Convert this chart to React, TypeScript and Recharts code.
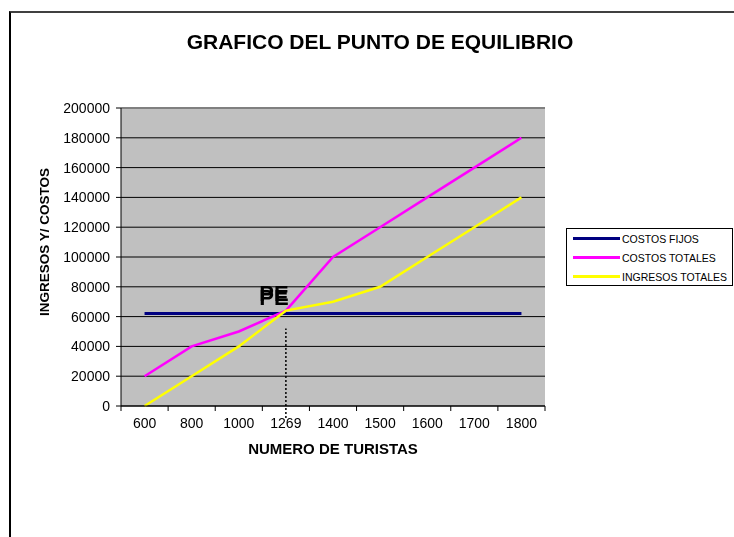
import React from 'react'
import { LineChart, Line, XAxis, YAxis, CartesianGrid, Legend, ReferenceLine, ReferenceDot } from 'recharts'

const turistas = ['600', '800', '1000', '1269', '1400', '1500', '1600', '1700', '1800']
const costosFijos = [62000, 62000, 62000, 62000, 62000, 62000, 62000, 62000, 62000]
const costosTotales = [20000, 40000, 50000, 64000, 100000, 120000, 140000, 160000, 180000]
const ingresosTotales = [0, 20000, 40000, 64000, 70000, 80000, 100000, 120000, 140000]
const yTicks = [0, 20000, 40000, 60000, 80000, 100000, 120000, 140000, 160000, 180000, 200000]

// punto de equilibrio y linea punteada hacia el eje
const peTuristas = '1269'
const peValor = 64000
const peLinea = [-8000, 52000]

const data = turistas.map((t, i) => ({
  turistas: t,
  fijos: costosFijos[i],
  totales: costosTotales[i],
  ingresos: ingresosTotales[i],
}))

const W = 726
const H = 529
const MARGIN = { top: 100, right: 189, bottom: 101, left: 0 }
const Y_AXIS_W = 113
const X_AXIS_H = 30
const PLOT_W = W - MARGIN.left - Y_AXIS_W - MARGIN.right
const HALF = PLOT_W / turistas.length / 2
const FONT = '"Liberation Sans", Arial, sans-serif'

function XTick(props: any) {
  const { x, y, payload, index } = props
  const last = index === turistas.length - 1
  return (
    <g>
      <line x1={x - HALF} x2={x - HALF} y1={y} y2={y + 5} stroke="#000" />
      {last && <line x1={x + HALF} x2={x + HALF} y1={y} y2={y + 5} stroke="#000" />}
      <text x={x} y={y + 22} textAnchor="middle" fontSize={14} fill="#000" fontFamily={FONT}>
        {payload.value}
      </text>
    </g>
  )
}

function LegendBox(props: any) {
  const items = props.payload || []
  return (
    <div style={{ border: '1px solid #000', background: '#fff', height: 56, fontFamily: FONT, fontSize: 10.5 }}>
      {items.map((it: any) => (
        <div key={it.value} style={{ height: 19, display: 'flex', alignItems: 'center', whiteSpace: 'nowrap' }}>
          <div style={{ width: 47, height: 2.5, background: it.color, marginLeft: 6, marginRight: 2 }} />
          <span style={{ color: '#000' }}>{it.value}</span>
        </div>
      ))}
    </div>
  )
}

function PeLabel(props: any) {
  const vb = props.viewBox || {}
  const x = (vb.x || 0) - 12
  const y = vb.y || 0
  return (
    <g fontFamily={FONT} fontWeight="bold" fontSize={22} textAnchor="middle" fill="#000">
      <text x={x} y={y - 10}>PE</text>
      <text x={x} y={y - 6}>PE</text>
    </g>
  )
}

export default function App() {
  return (
    <div style={{ position: 'fixed', left: 8, top: 8, width: W, height: H, overflow: 'hidden' }}>
      <div
        style={{
          position: 'absolute',
          left: 1,
          top: 3,
          width: W + 20,
          height: H + 20,
          borderLeft: '2px solid #000',
          borderTop: '2px solid #404040',
        }}
      />
      <div
        style={{
          position: 'absolute',
          left: 0,
          top: 22,
          width: 744,
          textAlign: 'center',
          fontFamily: FONT,
          fontWeight: 'bold',
          fontSize: 21,
          lineHeight: '24px',
        }}
      >
        GRAFICO DEL PUNTO DE EQUILIBRIO
      </div>
      <div style={{ position: 'absolute', left: 0, top: 0 }}>
        <LineChart width={W} height={H} data={data} margin={MARGIN}>
          <CartesianGrid vertical={false} fill="#C0C0C0" fillOpacity={1} stroke="#000" strokeOpacity={1} />
          <XAxis
            dataKey="turistas"
            height={X_AXIS_H}
            padding={{ left: HALF, right: HALF }}
            interval={0}
            tickSize={0}
            tickMargin={0}
            tickLine={false}
            axisLine={{ stroke: '#000' }}
            tick={<XTick />}
            label={(p: any) => {
              const vb = p.viewBox || { x: 113, y: 398, width: PLOT_W }
              return (
                <text
                  x={vb.x + vb.width / 2}
                  y={vb.y + 48}
                  textAnchor="middle"
                  fontFamily={FONT}
                  fontWeight="bold"
                  fontSize={15}
                  fill="#000"
                >
                  NUMERO DE TURISTAS
                </text>
              )
            }}
          />
          <YAxis
            width={Y_AXIS_W}
            domain={[0, 200000]}
            ticks={yTicks}
            interval={0}
            tickSize={5}
            tickMargin={6}
            axisLine={{ stroke: '#000' }}
            tickLine={{ stroke: '#000' }}
            tick={{ fontSize: 14, fill: '#000', fontFamily: FONT }}
            label={(p: any) => {
              const vb = p.viewBox || { x: 0, y: 100, height: 298 }
              const cx = vb.x + 36
              const cy = vb.y + vb.height / 2 - 15
              return (
                <text
                  x={cx}
                  y={cy}
                  transform={`rotate(-90 ${cx} ${cy})`}
                  textAnchor="middle"
                  dominantBaseline="central"
                  fontFamily={FONT}
                  fontWeight="bold"
                  fontSize={13.5}
                  fill="#000"
                >
                  INGRESOS Y/ COSTOS
                </text>
              )
            }}
          />
          <YAxis
            yAxisId="marco"
            orientation="right"
            width={0}
            domain={[0, 1]}
            tick={false}
            tickLine={false}
            axisLine={{ stroke: '#808080', strokeWidth: 2 }}
          />
          <ReferenceLine y={200000} stroke="#808080" strokeWidth={2} />
          <Line
            type="linear"
            dataKey="fijos"
            name="COSTOS FIJOS"
            stroke="#000080"
            strokeWidth={3}
            dot={false}
            activeDot={false}
            isAnimationActive={false}
          />
          <Line
            type="linear"
            dataKey="totales"
            name="COSTOS TOTALES"
            stroke="#FF00FF"
            strokeWidth={2.5}
            dot={false}
            activeDot={false}
            isAnimationActive={false}
          />
          <Line
            type="linear"
            dataKey="ingresos"
            name="INGRESOS TOTALES"
            stroke="#FFFF00"
            strokeWidth={2.5}
            dot={false}
            activeDot={false}
            isAnimationActive={false}
          />
          <ReferenceLine
            segment={[
              { x: peTuristas, y: peLinea[0] },
              { x: peTuristas, y: peLinea[1] },
            ]}
            ifOverflow="visible"
            stroke="#000"
            strokeWidth={1.5}
            strokeDasharray="2 2"
          />
          <ReferenceDot x={peTuristas} y={peValor} r={0} ifOverflow="visible" label={<PeLabel />} />
          <Legend
            layout="horizontal"
            verticalAlign="middle"
            align="center"
            content={<LegendBox />}
            wrapperStyle={{ position: 'absolute', left: 558, top: 220, width: 167, height: 58 }}
          />
        </LineChart>
      </div>
    </div>
  )
}
